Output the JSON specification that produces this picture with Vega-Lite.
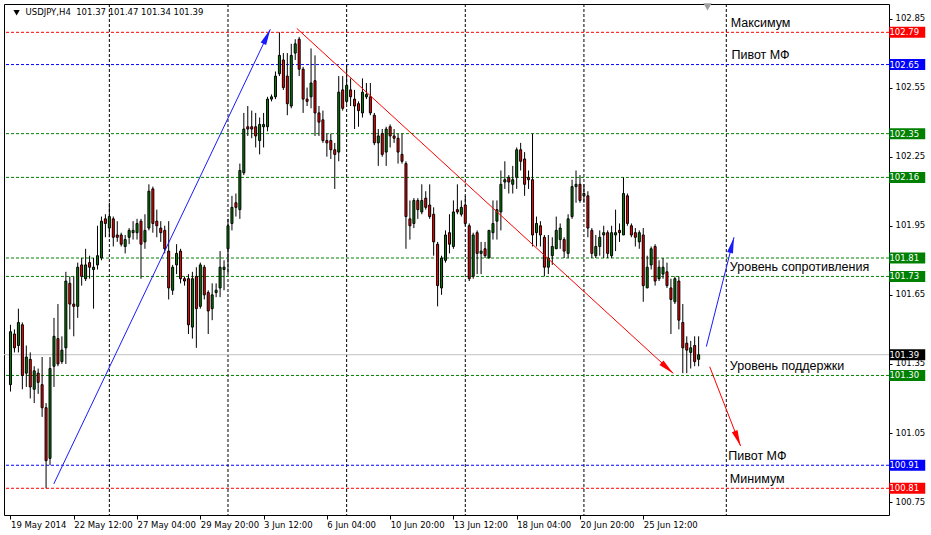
{
  "$schema": "https://vega.github.io/schema/vega-lite/v6.json",
  "width": 885,
  "height": 511,
  "autosize": {"type": "none"},
  "padding": {"left": 4, "top": 4, "right": 42, "bottom": 20},
  "background": "#ffffff",
  "config": {"view": {"stroke": "#000000", "strokeWidth": 1}, "font": "DejaVu Sans"},
  "resolve": {"scale": {"color": "independent"}},
  "datasets": {
    "candles": [
      {"i":0,"o":101.26,"h":101.52,"l":101.23,"c":101.49},
      {"i":1,"o":101.48,"h":101.50,"l":101.40,"c":101.42},
      {"i":2,"o":101.43,"h":101.59,"l":101.40,"c":101.53},
      {"i":3,"o":101.52,"h":101.53,"l":101.24,"c":101.30},
      {"i":4,"o":101.31,"h":101.43,"l":101.25,"c":101.38},
      {"i":5,"o":101.37,"h":101.40,"l":101.20,"c":101.25},
      {"i":6,"o":101.24,"h":101.34,"l":101.18,"c":101.32},
      {"i":7,"o":101.31,"h":101.33,"l":101.22,"c":101.27},
      {"i":8,"o":101.26,"h":101.38,"l":101.12,"c":101.16},
      {"i":9,"o":101.16,"h":101.18,"l":100.81,"c":100.93},
      {"i":10,"o":100.94,"h":101.38,"l":100.91,"c":101.33},
      {"i":11,"o":101.34,"h":101.55,"l":101.25,"c":101.47},
      {"i":12,"o":101.46,"h":101.61,"l":101.34,"c":101.35},
      {"i":13,"o":101.36,"h":101.47,"l":101.35,"c":101.41},
      {"i":14,"o":101.42,"h":101.75,"l":101.35,"c":101.71},
      {"i":15,"o":101.70,"h":101.73,"l":101.50,"c":101.61},
      {"i":16,"o":101.61,"h":101.73,"l":101.47,"c":101.60},
      {"i":17,"o":101.60,"h":101.79,"l":101.55,"c":101.77},
      {"i":18,"o":101.78,"h":101.81,"l":101.69,"c":101.73},
      {"i":19,"o":101.72,"h":101.85,"l":101.71,"c":101.78},
      {"i":20,"o":101.79,"h":101.82,"l":101.72,"c":101.77},
      {"i":21,"o":101.76,"h":101.81,"l":101.59,"c":101.77},
      {"i":22,"o":101.78,"h":101.95,"l":101.76,"c":101.82},
      {"i":23,"o":101.81,"h":101.99,"l":101.80,"c":101.97},
      {"i":24,"o":101.98,"h":102.00,"l":101.90,"c":101.96},
      {"i":25,"o":101.94,"h":102.05,"l":101.90,"c":101.99},
      {"i":26,"o":101.98,"h":101.99,"l":101.86,"c":101.90},
      {"i":27,"o":101.91,"h":101.97,"l":101.88,"c":101.90},
      {"i":28,"o":101.91,"h":101.92,"l":101.86,"c":101.87},
      {"i":29,"o":101.86,"h":101.91,"l":101.83,"c":101.89},
      {"i":30,"o":101.90,"h":101.94,"l":101.87,"c":101.93},
      {"i":31,"o":101.92,"h":101.97,"l":101.89,"c":101.93},
      {"i":32,"o":101.92,"h":101.98,"l":101.89,"c":101.96},
      {"i":33,"o":101.97,"h":101.98,"l":101.72,"c":101.87},
      {"i":34,"o":101.88,"h":102.00,"l":101.85,"c":101.93},
      {"i":35,"o":101.94,"h":102.13,"l":101.93,"c":102.10},
      {"i":36,"o":102.11,"h":102.12,"l":101.92,"c":101.96},
      {"i":37,"o":101.97,"h":102.02,"l":101.90,"c":101.95},
      {"i":38,"o":101.94,"h":101.97,"l":101.88,"c":101.92},
      {"i":39,"o":101.93,"h":101.95,"l":101.83,"c":101.85},
      {"i":40,"o":101.84,"h":101.97,"l":101.63,"c":101.68},
      {"i":41,"o":101.67,"h":101.78,"l":101.65,"c":101.77},
      {"i":42,"o":101.78,"h":101.87,"l":101.74,"c":101.83},
      {"i":43,"o":101.84,"h":101.85,"l":101.70,"c":101.72},
      {"i":44,"o":101.72,"h":101.73,"l":101.69,"c":101.71},
      {"i":45,"o":101.72,"h":101.74,"l":101.48,"c":101.52},
      {"i":46,"o":101.51,"h":101.75,"l":101.46,"c":101.72},
      {"i":47,"o":101.73,"h":101.77,"l":101.42,"c":101.59},
      {"i":48,"o":101.60,"h":101.79,"l":101.59,"c":101.78},
      {"i":49,"o":101.77,"h":101.78,"l":101.63,"c":101.65},
      {"i":50,"o":101.66,"h":101.67,"l":101.48,"c":101.58},
      {"i":51,"o":101.59,"h":101.70,"l":101.54,"c":101.65},
      {"i":52,"o":101.66,"h":101.70,"l":101.64,"c":101.67},
      {"i":53,"o":101.68,"h":101.84,"l":101.64,"c":101.77},
      {"i":54,"o":101.76,"h":101.80,"l":101.67,"c":101.77},
      {"i":55,"o":101.85,"h":101.98,"l":101.74,"c":101.95},
      {"i":56,"o":101.96,"h":102.08,"l":101.93,"c":102.03},
      {"i":57,"o":102.05,"h":102.09,"l":101.99,"c":102.03},
      {"i":58,"o":102.02,"h":102.22,"l":101.98,"c":102.19},
      {"i":59,"o":102.18,"h":102.44,"l":102.17,"c":102.37},
      {"i":60,"o":102.38,"h":102.47,"l":102.34,"c":102.37},
      {"i":61,"o":102.38,"h":102.45,"l":102.33,"c":102.37},
      {"i":62,"o":102.38,"h":102.44,"l":102.29,"c":102.34},
      {"i":63,"o":102.32,"h":102.42,"l":102.26,"c":102.39},
      {"i":64,"o":102.38,"h":102.44,"l":102.29,"c":102.39},
      {"i":65,"o":102.38,"h":102.51,"l":102.36,"c":102.50},
      {"i":66,"o":102.50,"h":102.52,"l":102.49,"c":102.51},
      {"i":67,"o":102.51,"h":102.62,"l":102.50,"c":102.60},
      {"i":68,"o":102.61,"h":102.79,"l":102.60,"c":102.69},
      {"i":69,"o":102.67,"h":102.70,"l":102.54,"c":102.55},
      {"i":70,"o":102.60,"h":102.70,"l":102.43,"c":102.48},
      {"i":71,"o":102.47,"h":102.74,"l":102.46,"c":102.69},
      {"i":72,"o":102.70,"h":102.76,"l":102.67,"c":102.74},
      {"i":73,"o":102.76,"h":102.77,"l":102.60,"c":102.63},
      {"i":74,"o":102.63,"h":102.64,"l":102.44,"c":102.50},
      {"i":75,"o":102.50,"h":102.55,"l":102.47,"c":102.49},
      {"i":76,"o":102.51,"h":102.72,"l":102.46,"c":102.57},
      {"i":77,"o":102.58,"h":102.69,"l":102.34,"c":102.44},
      {"i":78,"o":102.44,"h":102.47,"l":102.34,"c":102.40},
      {"i":79,"o":102.41,"h":102.45,"l":102.31,"c":102.32},
      {"i":80,"o":102.32,"h":102.35,"l":102.25,"c":102.31},
      {"i":81,"o":102.32,"h":102.35,"l":102.24,"c":102.28},
      {"i":82,"o":102.28,"h":102.31,"l":102.11,"c":102.26},
      {"i":83,"o":102.27,"h":102.60,"l":102.23,"c":102.53},
      {"i":84,"o":102.54,"h":102.60,"l":102.45,"c":102.46},
      {"i":85,"o":102.49,"h":102.65,"l":102.48,"c":102.56},
      {"i":86,"o":102.54,"h":102.59,"l":102.47,"c":102.51},
      {"i":87,"o":102.50,"h":102.54,"l":102.37,"c":102.47},
      {"i":88,"o":102.48,"h":102.49,"l":102.38,"c":102.45},
      {"i":89,"o":102.44,"h":102.59,"l":102.42,"c":102.53},
      {"i":90,"o":102.51,"h":102.57,"l":102.50,"c":102.52},
      {"i":91,"o":102.51,"h":102.57,"l":102.43,"c":102.44},
      {"i":92,"o":102.43,"h":102.44,"l":102.30,"c":102.31},
      {"i":93,"o":102.31,"h":102.37,"l":102.21,"c":102.34},
      {"i":94,"o":102.35,"h":102.37,"l":102.25,"c":102.26},
      {"i":95,"o":102.27,"h":102.38,"l":102.21,"c":102.37},
      {"i":96,"o":102.38,"h":102.39,"l":102.29,"c":102.34},
      {"i":97,"o":102.34,"h":102.37,"l":102.31,"c":102.33},
      {"i":98,"o":102.33,"h":102.35,"l":102.22,"c":102.27},
      {"i":99,"o":102.26,"h":102.35,"l":102.22,"c":102.23},
      {"i":100,"o":102.22,"h":102.23,"l":101.85,"c":101.99},
      {"i":101,"o":101.98,"h":102.06,"l":101.89,"c":101.95},
      {"i":102,"o":101.96,"h":102.07,"l":101.94,"c":102.06},
      {"i":103,"o":102.06,"h":102.07,"l":101.98,"c":102.02},
      {"i":104,"o":102.01,"h":102.13,"l":102.00,"c":102.06},
      {"i":105,"o":102.07,"h":102.10,"l":102.02,"c":102.03},
      {"i":106,"o":102.04,"h":102.13,"l":101.98,"c":101.99},
      {"i":107,"o":102.00,"h":102.03,"l":101.82,"c":101.88},
      {"i":108,"o":101.87,"h":101.88,"l":101.60,"c":101.69},
      {"i":109,"o":101.68,"h":101.82,"l":101.65,"c":101.81},
      {"i":110,"o":101.80,"h":101.93,"l":101.79,"c":101.91},
      {"i":111,"o":101.92,"h":102.00,"l":101.83,"c":101.87},
      {"i":112,"o":101.86,"h":102.06,"l":101.85,"c":102.01},
      {"i":113,"o":102.02,"h":102.13,"l":102.00,"c":102.01},
      {"i":114,"o":102.00,"h":102.06,"l":101.99,"c":102.03},
      {"i":115,"o":102.04,"h":102.08,"l":101.95,"c":101.96},
      {"i":116,"o":101.95,"h":101.96,"l":101.71,"c":101.72},
      {"i":117,"o":101.73,"h":101.92,"l":101.72,"c":101.91},
      {"i":118,"o":101.92,"h":101.93,"l":101.74,"c":101.83},
      {"i":119,"o":101.83,"h":101.88,"l":101.74,"c":101.84},
      {"i":120,"o":101.85,"h":101.88,"l":101.81,"c":101.82},
      {"i":121,"o":101.81,"h":101.93,"l":101.81,"c":101.93},
      {"i":122,"o":101.92,"h":102.06,"l":101.89,"c":101.96},
      {"i":123,"o":101.97,"h":102.06,"l":101.89,"c":102.02},
      {"i":124,"o":102.01,"h":102.19,"l":101.93,"c":102.13},
      {"i":125,"o":102.14,"h":102.23,"l":102.11,"c":102.15},
      {"i":126,"o":102.16,"h":102.17,"l":102.09,"c":102.14},
      {"i":127,"o":102.13,"h":102.21,"l":102.09,"c":102.15},
      {"i":128,"o":102.16,"h":102.29,"l":102.11,"c":102.28},
      {"i":129,"o":102.28,"h":102.31,"l":102.19,"c":102.23},
      {"i":130,"o":102.24,"h":102.27,"l":102.08,"c":102.13},
      {"i":131,"o":102.16,"h":102.19,"l":102.11,"c":102.15},
      {"i":132,"o":102.15,"h":102.35,"l":101.86,"c":101.91},
      {"i":133,"o":101.92,"h":101.99,"l":101.86,"c":101.96},
      {"i":134,"o":101.95,"h":101.97,"l":101.86,"c":101.91},
      {"i":135,"o":101.90,"h":101.91,"l":101.73,"c":101.77},
      {"i":136,"o":101.77,"h":101.91,"l":101.74,"c":101.81},
      {"i":137,"o":101.82,"h":101.90,"l":101.78,"c":101.86},
      {"i":138,"o":101.85,"h":101.99,"l":101.85,"c":101.93},
      {"i":139,"o":101.89,"h":101.96,"l":101.85,"c":101.94},
      {"i":140,"o":101.89,"h":101.90,"l":101.81,"c":101.84},
      {"i":141,"o":101.83,"h":102.00,"l":101.81,"c":101.98},
      {"i":142,"o":101.99,"h":102.15,"l":101.98,"c":102.12},
      {"i":143,"o":102.12,"h":102.19,"l":102.05,"c":102.13},
      {"i":144,"o":102.13,"h":102.17,"l":102.05,"c":102.06},
      {"i":145,"o":102.08,"h":102.13,"l":102.05,"c":102.09},
      {"i":146,"o":102.08,"h":102.10,"l":101.90,"c":101.94},
      {"i":147,"o":101.93,"h":101.94,"l":101.81,"c":101.83},
      {"i":148,"o":101.82,"h":101.91,"l":101.81,"c":101.86},
      {"i":149,"o":101.86,"h":101.93,"l":101.82,"c":101.90},
      {"i":150,"o":101.91,"h":101.95,"l":101.81,"c":101.92},
      {"i":151,"o":101.92,"h":101.93,"l":101.81,"c":101.83},
      {"i":152,"o":101.82,"h":101.95,"l":101.81,"c":101.92},
      {"i":153,"o":101.91,"h":102.02,"l":101.84,"c":101.92},
      {"i":154,"o":101.93,"h":101.96,"l":101.88,"c":101.92},
      {"i":155,"o":101.91,"h":102.16,"l":101.91,"c":102.09},
      {"i":156,"o":102.08,"h":102.09,"l":101.95,"c":101.96},
      {"i":157,"o":101.95,"h":101.96,"l":101.90,"c":101.91},
      {"i":158,"o":101.92,"h":101.94,"l":101.86,"c":101.90},
      {"i":159,"o":101.88,"h":101.93,"l":101.85,"c":101.92},
      {"i":160,"o":101.91,"h":101.94,"l":101.62,"c":101.69},
      {"i":161,"o":101.68,"h":101.82,"l":101.68,"c":101.77},
      {"i":162,"o":101.78,"h":101.86,"l":101.76,"c":101.85},
      {"i":163,"o":101.86,"h":101.87,"l":101.69,"c":101.71},
      {"i":164,"o":101.72,"h":101.80,"l":101.71,"c":101.77},
      {"i":165,"o":101.74,"h":101.81,"l":101.72,"c":101.77},
      {"i":166,"o":101.75,"h":101.79,"l":101.68,"c":101.69},
      {"i":167,"o":101.68,"h":101.72,"l":101.48,"c":101.63},
      {"i":168,"o":101.62,"h":101.73,"l":101.61,"c":101.72},
      {"i":169,"o":101.71,"h":101.73,"l":101.50,"c":101.54},
      {"i":170,"o":101.53,"h":101.61,"l":101.31,"c":101.42},
      {"i":171,"o":101.44,"h":101.47,"l":101.31,"c":101.41},
      {"i":172,"o":101.40,"h":101.45,"l":101.33,"c":101.42},
      {"i":173,"o":101.43,"h":101.47,"l":101.34,"c":101.36},
      {"i":174,"o":101.37,"h":101.47,"l":101.34,"c":101.39}
    ],
    "grid": [{"i":25},{"i":55},{"i":85},{"i":115},{"i":145},{"i":181}],
    "levels": [
      {"p":102.79,"k":"ext"},{"p":102.65,"k":"piv"},{"p":102.35,"k":"lev"},{"p":102.16,"k":"lev"},
      {"p":101.81,"k":"lev"},{"p":101.73,"k":"lev"},{"p":101.30,"k":"lev"},{"p":100.91,"k":"piv"},
      {"p":100.81,"k":"ext"},{"p":101.39,"k":"bid"}
    ],
    "arrows": [
      {"a":"a1","x1":10.95,"y1":100.829,"x2":65.7,"y2":102.803},
      {"a":"a2","x1":72.4,"y1":102.807,"x2":167.6,"y2":101.309},
      {"a":"a3","x1":175.95,"y1":101.425,"x2":182.95,"y2":101.90},
      {"a":"a4","x1":176.8,"y1":101.338,"x2":184.6,"y2":100.994}
    ],
    "notes": [
      {"t":"Максимум","x":182.1,"y":102.83},
      {"t":"Пивот МФ","x":182.3,"y":102.69},
      {"t":"Уровень сопротивления","x":181.9,"y":101.77},
      {"t":"Уровень поддержки","x":181.9,"y":101.34},
      {"t":"Пивот МФ","x":181.5,"y":100.95},
      {"t":"Минимум","x":181.9,"y":100.85}
    ],
    "header": [{"t":"USDJPY,H4\u00a0 101.37 101.47 101.34 101.39","x":3.8,"y":102.877}],
    "markers": [{"m":"menu","x":1.55,"y":102.875},{"m":"shift","x":176.25,"y":102.9}]
  },
  "layer": [
    {
      "data": {"name": "grid"},
      "mark": {"type": "rule", "color": "#000000", "strokeWidth": 1, "strokeDash": [3, 2]},
      "encoding": {
        "x": {"field": "i", "type": "quantitative", "title": null, "scale": {"domain": [-0.375, 220.875], "nice": false, "zero": false},
          "axis": {"title": null, "orient": "bottom", "values": [0, 16, 32, 48, 64, 80, 96, 112, 128, 144, 160],
            "labelExpr": "['19 May 2014','22 May 12:00','27 May 04:00','29 May 20:00','3 Jun 12:00','6 Jun 04:00','10 Jun 20:00','13 Jun 12:00','18 Jun 04:00','20 Jun 20:00','25 Jun 12:00'][round(datum.value/16)]",
            "labelAlign": "left", "labelBaseline": "top", "labelPadding": 1, "tickSize": 4, "tickColor": "#000000",
            "labelFont": "DejaVu Sans", "labelFontSize": 8.5, "labelColor": "#000000", "domain": false, "grid": false,
            "labelOverlap": false, "labelFlush": false, "labelBound": false}}
      }
    },
    {
      "data": {"name": "levels"},
      "transform": [{"filter": "datum.k != 'bid'"}],
      "mark": {"type": "rule", "strokeWidth": 1, "strokeDash": [3, 2]},
      "encoding": {
        "y": {"field": "p", "type": "quantitative", "title": null, "scale": {"domain": [100.694, 102.913], "nice": false, "zero": false},
          "axis": {"title": null, "orient": "right", "values": [102.85, 102.7, 102.55, 102.4, 102.25, 102.1, 101.95, 101.8, 101.65, 101.5, 101.35, 101.2, 101.05, 100.9, 100.75],
            "format": ".2f", "tickSize": 3, "labelPadding": 3, "tickColor": "#000000", "labelFont": "DejaVu Sans", "labelFontSize": 8.5,
            "labelColor": "#000000", "domain": false, "grid": false, "labelOverlap": false, "labelOffset": -1, "labelBound": false, "labelFlush": false}},
        "color": {"field": "k", "type": "nominal", "scale": {"domain": ["ext", "piv", "lev", "bid"], "range": ["#ff0000", "#0000ff", "#008000", "#000000"]}, "legend": null}
      }
    },
    {
      "data": {"name": "levels"},
      "transform": [{"filter": "datum.k == 'bid'"}],
      "mark": {"type": "rule", "strokeWidth": 1, "color": "#c0c0c0"},
      "encoding": {
        "y": {"field": "p", "type": "quantitative", "title": null}
      }
    },
    {
      "data": {"name": "candles"},
      "mark": {"type": "rule", "color": "#000000", "strokeWidth": 1},
      "encoding": {
        "x": {"field": "i", "type": "quantitative", "title": null},
        "y": {"field": "h", "type": "quantitative", "title": null},
        "y2": {"field": "l"}
      }
    },
    {
      "data": {"name": "candles"},
      "mark": {"type": "bar", "size": 2, "stroke": "#000000", "strokeWidth": 1},
      "encoding": {
        "x": {"field": "i", "type": "quantitative", "title": null},
        "y": {"field": "o", "type": "quantitative", "title": null},
        "y2": {"field": "c"},
        "color": {"condition": {"test": "datum.c >= datum.o", "value": "#008000"}, "value": "#ff0000"}
      }
    },
    {
      "data": {"name": "arrows"},
      "mark": {"type": "rule", "strokeWidth": 1},
      "encoding": {
        "x": {"field": "x1", "type": "quantitative", "title": null},
        "y": {"field": "y1", "type": "quantitative", "title": null},
        "x2": {"field": "x2"},
        "y2": {"field": "y2"},
        "color": {"field": "a", "type": "nominal", "scale": {"domain": ["a1", "a2", "a3", "a4"], "range": ["#1a1aff", "#ff0000", "#1a1aff", "#ff0000"]}, "legend": null}
      }
    },
    {
      "data": {"name": "arrows"},
      "transform": [{"filter": "datum.a == 'a1'"}],
      "mark": {"type": "point", "filled": true, "opacity": 1, "shape": "M0,0L0.19,1L-0.19,1Z", "size": 1024, "strokeWidth": 0, "angle": 25.6, "color": "#1a1aff"},
      "encoding": {"x": {"field": "x2", "type": "quantitative", "title": null}, "y": {"field": "y2", "type": "quantitative", "title": null}}
    },
    {
      "data": {"name": "arrows"},
      "transform": [{"filter": "datum.a == 'a2'"}],
      "mark": {"type": "point", "filled": true, "opacity": 1, "shape": "M0,0L0.19,1L-0.19,1Z", "size": 1024, "strokeWidth": 0, "angle": 132.2, "color": "#ff0000"},
      "encoding": {"x": {"field": "x2", "type": "quantitative", "title": null}, "y": {"field": "y2", "type": "quantitative", "title": null}}
    },
    {
      "data": {"name": "arrows"},
      "transform": [{"filter": "datum.a == 'a3'"}],
      "mark": {"type": "point", "filled": true, "opacity": 1, "shape": "M0,0L0.19,1L-0.19,1Z", "size": 1024, "strokeWidth": 0, "angle": 14.3, "color": "#1a1aff"},
      "encoding": {"x": {"field": "x2", "type": "quantitative", "title": null}, "y": {"field": "y2", "type": "quantitative", "title": null}}
    },
    {
      "data": {"name": "arrows"},
      "transform": [{"filter": "datum.a == 'a4'"}],
      "mark": {"type": "point", "filled": true, "opacity": 1, "shape": "M0,0L0.19,1L-0.19,1Z", "size": 1024, "strokeWidth": 0, "angle": 158.5, "color": "#ff0000"},
      "encoding": {"x": {"field": "x2", "type": "quantitative", "title": null}, "y": {"field": "y2", "type": "quantitative", "title": null}}
    },
    {
      "data": {"name": "notes"},
      "mark": {"type": "text", "align": "left", "baseline": "middle", "font": "Liberation Sans", "fontSize": 12.5, "color": "#000000"},
      "encoding": {
        "x": {"field": "x", "type": "quantitative", "title": null},
        "y": {"field": "y", "type": "quantitative", "title": null},
        "text": {"field": "t"}
      }
    },
    {
      "data": {"name": "header"},
      "mark": {"type": "text", "align": "left", "baseline": "middle", "font": "DejaVu Sans", "fontSize": 8.5, "color": "#000000"},
      "encoding": {
        "x": {"field": "x", "type": "quantitative", "title": null},
        "y": {"field": "y", "type": "quantitative", "title": null},
        "text": {"field": "t"}
      }
    },
    {
      "data": {"name": "markers"},
      "transform": [{"filter": "datum.m == 'menu'"}],
      "mark": {"type": "point", "shape": "triangle-down", "filled": true, "opacity": 1, "size": 40, "color": "#000000"},
      "encoding": {
        "x": {"field": "x", "type": "quantitative", "title": null},
        "y": {"field": "y", "type": "quantitative", "title": null}
      }
    },
    {
      "data": {"name": "markers"},
      "transform": [{"filter": "datum.m == 'shift'"}],
      "mark": {"type": "point", "shape": "triangle-down", "filled": true, "opacity": 1, "size": 70, "color": "#a0a0a0"},
      "encoding": {
        "x": {"field": "x", "type": "quantitative", "title": null},
        "y": {"field": "y", "type": "quantitative", "title": null}
      }
    },
    {
      "data": {"name": "levels"},
      "mark": {"type": "tick", "orient": "horizontal", "size": 36, "thickness": 11, "opacity": 1},
      "encoding": {
        "x": {"datum": 226.75, "type": "quantitative", "title": null},
        "y": {"field": "p", "type": "quantitative", "title": null},
        "color": {"field": "k", "type": "nominal", "scale": {"domain": ["ext", "piv", "lev", "bid"], "range": ["#ff0000", "#0000ff", "#008000", "#000000"]}, "legend": null}
      }
    },
    {
      "data": {"name": "levels"},
      "mark": {"type": "text", "align": "left", "baseline": "middle", "font": "DejaVu Sans", "fontSize": 8.5, "color": "#ffffff"},
      "encoding": {
        "x": {"datum": 222.25, "type": "quantitative", "title": null},
        "y": {"field": "p", "type": "quantitative", "title": null},
        "text": {"field": "p", "type": "quantitative", "format": ".2f"}
      }
    }
  ]
}
